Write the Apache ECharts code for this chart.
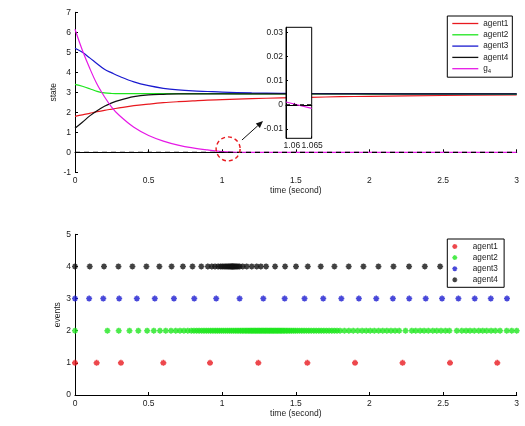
<!DOCTYPE html>
<html>
<head>
<meta charset="utf-8">
<script src="https://cdn.jsdelivr.net/npm/echarts@6/dist/echarts.min.js"></script>
<style>
  html, body { margin: 0; padding: 0; background: #fff; }
  #chart { width: 525px; height: 426px; }
</style>
</head>
<body>
<div id="chart"></div>
<script>
// state curves
const tState = [0, 0.05, 0.1, 0.15, 0.2, 0.25, 0.3, 0.4, 0.5, 0.6, 0.7, 0.8, 0.9, 1.0, 1.2, 1.4, 1.6, 1.8, 2.0, 2.5, 3.0];
const agent1 = [1.8, 1.87, 1.95, 2.03, 2.1, 2.16, 2.22, 2.33, 2.41, 2.48, 2.53, 2.57, 2.61, 2.63, 2.68, 2.72, 2.75, 2.78, 2.8, 2.84, 2.87];
const agent2 = [3.4, 3.3, 3.18, 3.05, 2.97, 2.94, 2.93, 2.93, 2.93, 2.93, 2.93, 2.93, 2.93, 2.93, 2.92, 2.92, 2.92, 2.92, 2.91, 2.91, 2.9];
const agent3 = [5.2, 5.0, 4.72, 4.43, 4.15, 3.97, 3.8, 3.52, 3.33, 3.2, 3.12, 3.07, 3.04, 3.01, 2.97, 2.95, 2.94, 2.93, 2.93, 2.92, 2.92];
const agent4 = [1.2, 1.5, 1.82, 2.08, 2.3, 2.47, 2.6, 2.78, 2.87, 2.9, 2.92, 2.92, 2.92, 2.92, 2.92, 2.92, 2.92, 2.92, 2.92, 2.92, 2.92];
const g4 = [6.15, 5.1, 4.2, 3.4, 2.78, 2.25, 1.85, 1.25, 0.84, 0.56, 0.36, 0.22, 0.12, 0.04, -0.005, -0.008, -0.008, -0.008, -0.008, -0.008, -0.008];
const zeroT = [0, 3];
const zeroV = [0, 0];

// zoomed inset
const insetT = [1.0576, 1.065];
const insetG4 = [0.0012, -0.0014];
const insetXTicks = [1.06, 1.065];
const insetYTicks = [-0.01, 0, 0.01, 0.02, 0.03];

// arrow from the circled crossing to the inset (data coords of the top plot)
const arrowFrom = [1.134, 0.615];
const arrowTo = [1.277, 1.565];

// event instants per agent
const events1 = [0, 0.147, 0.312, 0.6, 0.917, 1.245, 1.578, 1.902, 2.225, 2.547, 2.868];
const events2 = [0, 0.22, 0.297, 0.37, 0.43, 0.49, 0.535, 0.577, 0.616, 0.652, 0.684, 0.713, 0.74, 0.766, 0.79, 0.808, 0.826, 0.843, 0.86, 0.876, 0.892, 0.907, 0.922, 0.937, 0.952, 0.966, 0.98, 0.994, 1.008, 1.022, 1.036, 1.05, 1.063, 1.076, 1.089, 1.101, 1.113, 1.125, 1.136, 1.147, 1.158, 1.168, 1.178, 1.188, 1.197, 1.206, 1.215, 1.224, 1.233, 1.242, 1.251, 1.26, 1.269, 1.278, 1.287, 1.296, 1.305, 1.314, 1.323, 1.332, 1.341, 1.35, 1.359, 1.368, 1.377, 1.386, 1.395, 1.404, 1.414, 1.424, 1.435, 1.446, 1.458, 1.47, 1.483, 1.496, 1.51, 1.525, 1.54, 1.556, 1.572, 1.588, 1.605, 1.622, 1.639, 1.656, 1.673, 1.69, 1.708, 1.726, 1.744, 1.762, 1.78, 1.8, 1.83, 1.86, 1.89, 1.92, 1.95, 1.978, 2.005, 2.033, 2.062, 2.09, 2.118, 2.146, 2.174, 2.202, 2.245, 2.287, 2.314, 2.344, 2.371, 2.4, 2.43, 2.457, 2.486, 2.516, 2.543, 2.593, 2.627, 2.656, 2.683, 2.712, 2.742, 2.769, 2.796, 2.826, 2.855, 2.887, 2.932, 2.966, 3.0];
const events3 = [0, 0.096, 0.192, 0.3, 0.42, 0.542, 0.672, 0.81, 0.959, 1.118, 1.279, 1.424, 1.559, 1.686, 1.809, 1.928, 2.046, 2.159, 2.27, 2.382, 2.493, 2.604, 2.715, 2.824, 2.934];
const events4 = [0, 0.1, 0.197, 0.295, 0.39, 0.485, 0.573, 0.656, 0.733, 0.798, 0.858, 0.902, 0.929, 0.951, 0.972, 0.988, 1.0, 1.012, 1.022, 1.032, 1.041, 1.049, 1.056, 1.062, 1.067, 1.072, 1.077, 1.083, 1.09, 1.098, 1.107, 1.118, 1.139, 1.166, 1.2, 1.234, 1.262, 1.298, 1.359, 1.427, 1.501, 1.581, 1.669, 1.762, 1.859, 1.959, 2.061, 2.163, 2.269, 2.376, 2.48];

const names = ['agent1', 'agent2', 'agent3', 'agent4'];
const colors = ['#e8191f', '#1ee61e', '#1a1acf', '#111111'];
const magenta = '#e619e6';
const font = "'Liberation Sans', Arial, sans-serif";
const star = 'path://M3.7,0h2.6v10h-2.6z M0,3.7h10v2.6h-10z M0.6,2.5L2.5,0.6L9.4,7.5L7.5,9.4z M7.5,0.6L9.4,2.5L2.5,9.4L0.6,7.5z';
const lineIcon = 'path://M0,0h26v1.3h-26z';

function pairs(ts, vs) {
    return ts.map((t, i) => [t, vs[i]]);
}
function level(ts, y) {
    return ts.map(t => [t, y]);
}

const chart = echarts.init(document.getElementById('chart'), null, { renderer: 'canvas' });

const axisBase = {
    axisLine: { lineStyle: { color: '#000', width: 1 } },
    axisTick: { inside: true, length: 3, lineStyle: { color: '#000' } },
    axisLabel: { color: '#222', fontSize: 8.5, fontFamily: font, margin: 4, hideOverlap: false },
    splitLine: { show: false },
    nameMoveOverlap: false,
    nameTextStyle: { color: '#222', fontSize: 8.5, fontFamily: font }
};

// the inset x axis is split in two so both overlapping labels are kept
function insetX(values, pad) {
    return Object.assign({}, axisBase, {
        gridIndex: 1, type: 'value', position: 'bottom', offset: 0,
        min: insetT[0], max: insetT[1], z: 60,
        axisTick: { inside: true, length: 2, customValues: values, lineStyle: { color: '#000' } },
        axisLabel: {
            color: '#222', fontSize: 8.5, fontFamily: font, margin: 3, hideOverlap: false,
            padding: pad, customValues: values
        }
    });
}

const stateSeries = [agent1, agent2, agent3, agent4].map((d, i) => ({
    name: names[i],
    type: 'line',
    xAxisIndex: 0,
    yAxisIndex: 0,
    data: pairs(tState, d),
    symbol: 'none',
    smooth: 0.35,
    lineStyle: { color: colors[i], width: 1.2 },
    itemStyle: { color: colors[i] },
    z: 3
}));

const eventSeries = [events1, events2, events3, events4].map((d, i) => ({
    name: names[i] + ' ',
    type: 'scatter',
    xAxisIndex: 3,
    yAxisIndex: 2,
    data: level(d, i + 1),
    symbol: star,
    symbolSize: 6,
    itemStyle: { color: colors[i] }
}));

const option = {
    animation: false,
    backgroundColor: '#fff',
    textStyle: { fontFamily: font },
    grid: [
        { left: 75, top: 12.3, width: 441.7, height: 160 },
        { left: 286, top: 27.3, width: 25.7, height: 111 },
        { left: 75, top: 234.3, width: 441.7, height: 160.7 }
    ],
    xAxis: [
        Object.assign({}, axisBase, {
            gridIndex: 0, type: 'value', min: 0, max: 3, interval: 0.5,
            name: 'time (second)', nameLocation: 'middle', nameGap: 14
        }),
        insetX([insetXTicks[0]], [0, 5, 0, 0]),
        Object.assign(insetX([insetXTicks[1]], [0, 0, 0, 1]), { axisLine: { show: false } }),
        Object.assign({}, axisBase, {
            gridIndex: 2, type: 'value', min: 0, max: 3, interval: 0.5,
            name: 'time (second)', nameLocation: 'middle', nameGap: 14
        })
    ],
    yAxis: [
        Object.assign({}, axisBase, {
            gridIndex: 0, type: 'value', min: -1, max: 7, interval: 1,
            name: 'state', nameLocation: 'middle', nameGap: 17
        }),
        Object.assign({}, axisBase, {
            gridIndex: 1, type: 'value', min: -0.0138, max: 0.0321, z: 60,
            axisTick: { inside: true, length: 2, customValues: insetYTicks, lineStyle: { color: '#000' } },
            axisLabel: { color: '#222', fontSize: 8.5, fontFamily: font, margin: 3, hideOverlap: false, customValues: insetYTicks }
        }),
        Object.assign({}, axisBase, {
            gridIndex: 2, type: 'value', min: 0, max: 5, interval: 1,
            name: 'events', nameLocation: 'middle', nameGap: 12.5
        })
    ],
    legend: [
        {
            data: ['agent1', 'agent2', 'agent3', 'agent4', 'g4'].map(n => ({ name: n, icon: lineIcon })),
            orient: 'vertical',
            left: 447.3, top: 16,
            padding: [3, 4, 3, 5],
            itemWidth: 26, itemHeight: 9, itemGap: 2.3,
            backgroundColor: '#fff', borderColor: '#000', borderWidth: 1,
            selectedMode: false,
            formatter: name => name === 'g4' ? '{n|g}{s|4}' : name,
            textStyle: {
                color: '#222', fontSize: 8.2, fontFamily: font, lineHeight: 9,
                rich: {
                    n: { fontSize: 8.2, fontFamily: font, color: '#222' },
                    s: { fontSize: 6, fontFamily: font, color: '#222', padding: [5, 0, 0, 0] }
                }
            }
        },
        {
            data: names.map(n => ({ name: n + ' ', icon: star })),
            orient: 'vertical',
            left: 447.3, top: 239,
            padding: [3, 4, 3, 5],
            itemWidth: 26, itemHeight: 5, itemGap: 2.1,
            backgroundColor: '#fff', borderColor: '#000', borderWidth: 1,
            selectedMode: false,
            textStyle: { color: '#222', fontSize: 8.2, fontFamily: font, lineHeight: 9 }
        }
    ],
    series: stateSeries.concat([
        {
            name: 'g4',
            type: 'line',
            xAxisIndex: 0, yAxisIndex: 0,
            data: pairs(tState, g4),
            symbol: 'none',
            smooth: 0.35,
            lineStyle: { color: magenta, width: 1.2 },
            itemStyle: { color: magenta },
            z: 3
        },
        {
            name: 'zero',
            type: 'line',
            xAxisIndex: 0, yAxisIndex: 0,
            data: pairs(zeroT, zeroV),
            symbol: 'none',
            lineStyle: { color: '#000', width: 1.2, type: [5, 4] },
            z: 4
        },
        {
            name: 'g4 inset',
            type: 'line',
            xAxisIndex: 1, yAxisIndex: 1,
            data: pairs(insetT, insetG4),
            symbol: 'none',
            lineStyle: { color: magenta, width: 1.2 },
            z: 60
        },
        {
            name: 'zero inset',
            type: 'line',
            xAxisIndex: 1, yAxisIndex: 1,
            data: pairs(insetT, [0, 0]),
            symbol: 'none',
            lineStyle: { color: '#000', width: 1.4, type: [4, 3] },
            z: 61
        }
    ]).concat(eventSeries)
};

chart.setOption(option);

// inset frame, dashed circle around the zero crossing and the arrow
const c = chart.convertToPixel({ gridIndex: 0 }, [1.04, 0.17]);
const a0 = chart.convertToPixel({ gridIndex: 0 }, arrowFrom);
const a1 = chart.convertToPixel({ gridIndex: 0 }, arrowTo);
const ang = Math.atan2(a1[1] - a0[1], a1[0] - a0[0]);
const headLen = 7, headHalf = 3;
const bx = a1[0] - headLen * Math.cos(ang), by = a1[1] - headLen * Math.sin(ang);
const head = [
    a1,
    [bx + headHalf * Math.sin(ang), by - headHalf * Math.cos(ang)],
    [bx - headHalf * Math.sin(ang), by + headHalf * Math.cos(ang)]
];
chart.setOption({
    graphic: [
        {
            type: 'rect', z: 50,
            shape: { x: 286, y: 27.3, width: 25.7, height: 111 },
            style: { fill: '#fff', stroke: '#000', lineWidth: 1 }
        },
        {
            type: 'circle', z: 10,
            shape: { cx: c[0], cy: c[1], r: 12 },
            style: { fill: 'none', stroke: '#e8191f', lineWidth: 1.4, lineDash: [4, 3] }
        },
        {
            type: 'line', z: 10,
            shape: { x1: a0[0], y1: a0[1], x2: bx, y2: by },
            style: { stroke: '#111', lineWidth: 1 }
        },
        {
            type: 'polygon', z: 10,
            shape: { points: head },
            style: { fill: '#111' }
        }
    ]
});
</script>
</body>
</html>
